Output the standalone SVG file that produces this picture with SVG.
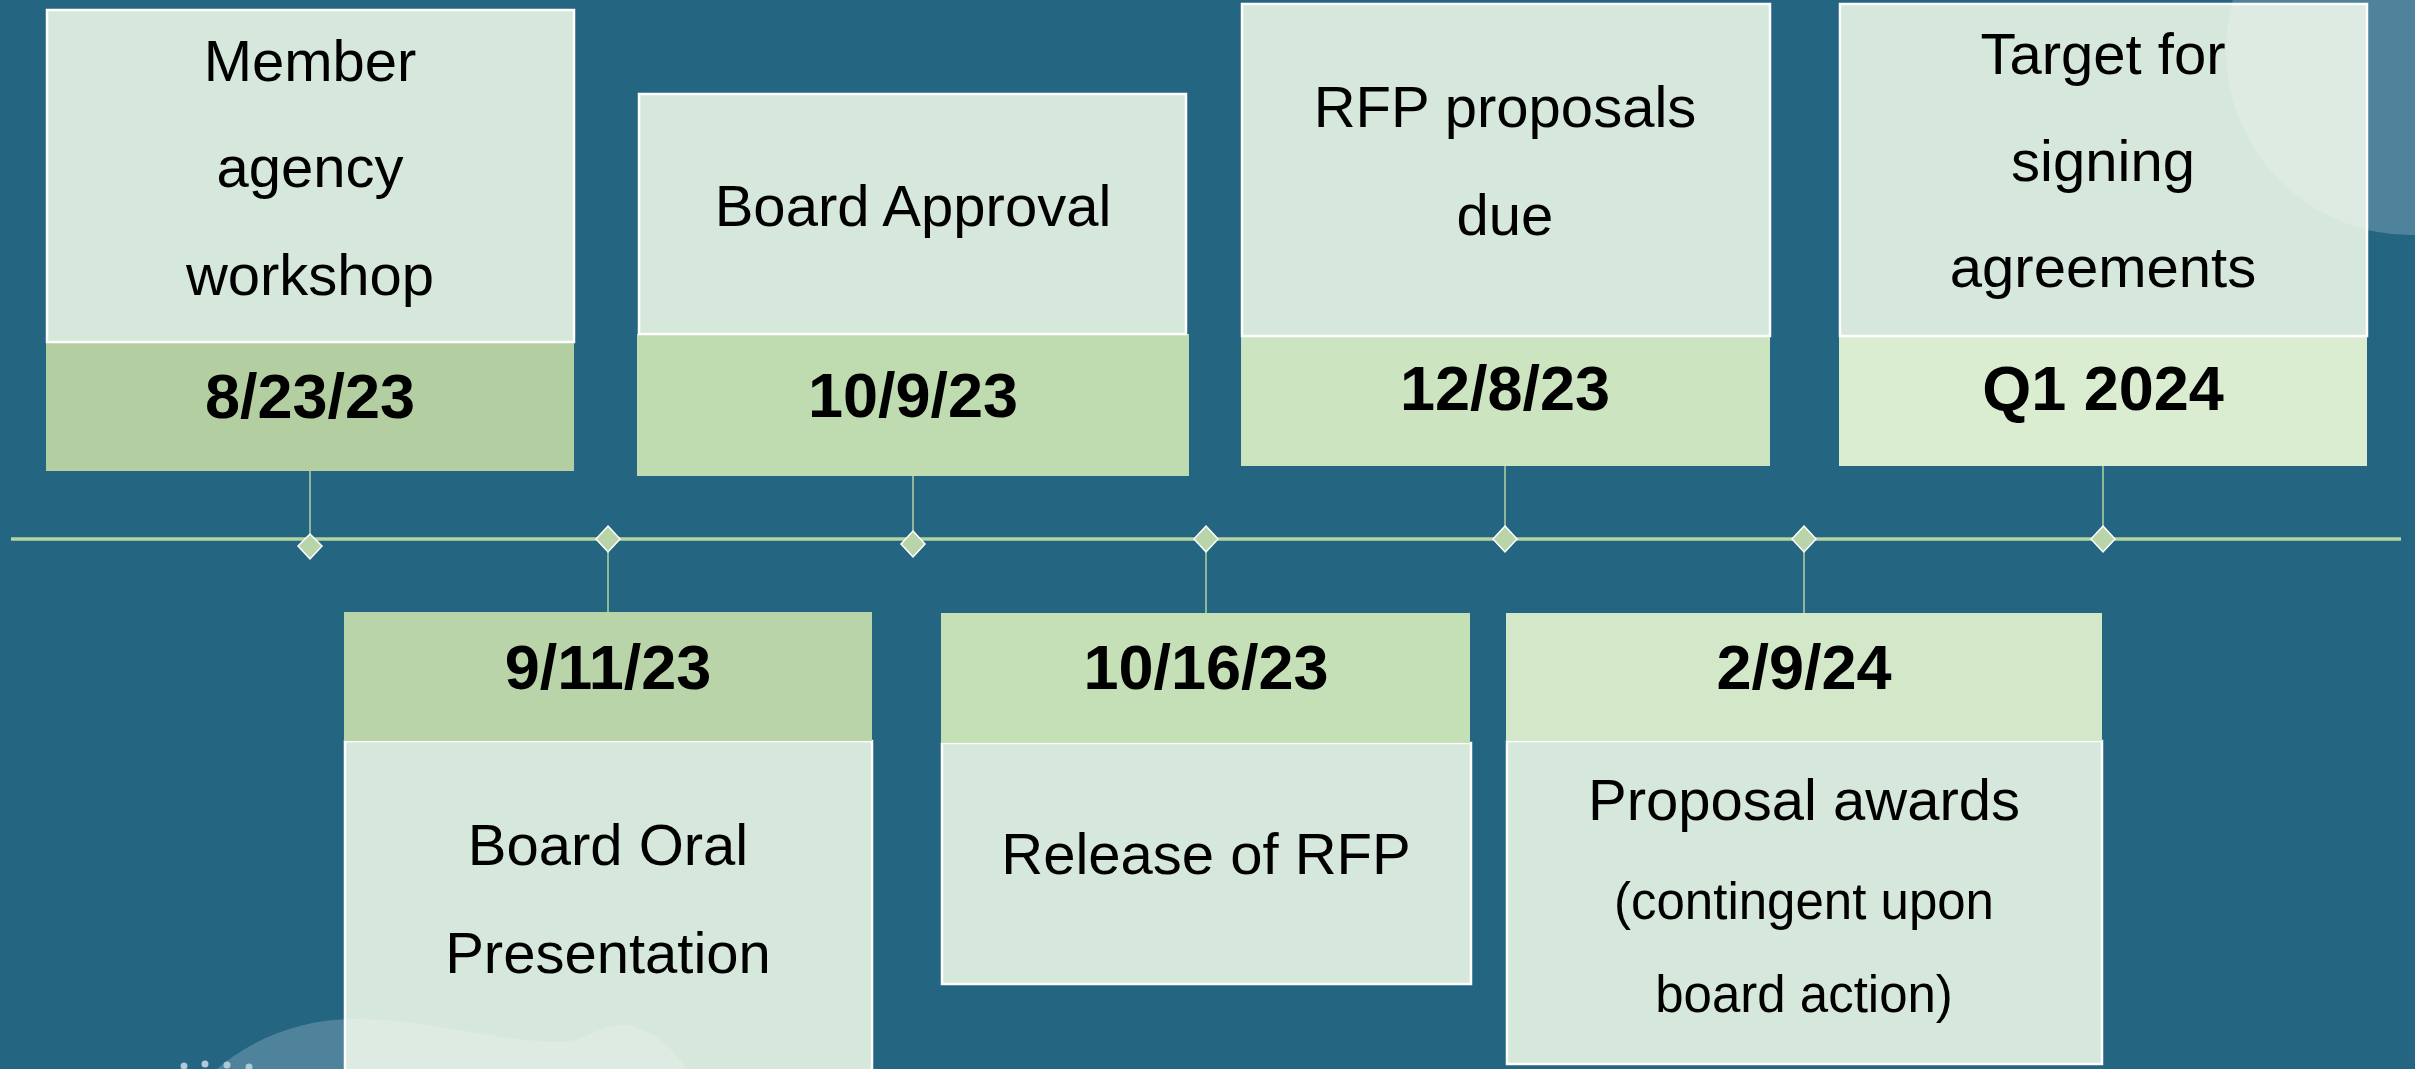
<svg xmlns="http://www.w3.org/2000/svg" width="2415" height="1069" viewBox="0 0 2415 1069">
<style>
.bg{fill:#246582}
.card{fill:#d6e7dc;stroke:#ffffff;stroke-width:2.5}
.t{font-family:"Liberation Sans",Arial,sans-serif;font-size:58px;fill:#000;text-anchor:middle}
.s{font-size:51px}
.d{font-family:"Liberation Sans",Arial,sans-serif;font-size:63px;font-weight:bold;fill:#000;text-anchor:middle}
.stem{stroke:#b4d3a2;stroke-width:1.5;fill:none}
.axis{stroke:#b4d3a2;stroke-width:3.5;fill:none}
.dia{fill:#b8d4a8;stroke:#ffffff;stroke-width:1.5}
.deco{fill:#ffffff;fill-opacity:0.2}
</style>
<rect class="bg" x="0" y="0" width="2415" height="1069"/>

<g id="connectors">
<line class="axis" x1="11" y1="539" x2="2401" y2="539"/>
<line class="stem" x1="310" y1="471" x2="310" y2="540"/>
<line class="stem" x1="608" y1="539" x2="608" y2="613"/>
<line class="stem" x1="913" y1="476" x2="913" y2="540"/>
<line class="stem" x1="1206" y1="539" x2="1206" y2="613"/>
<line class="stem" x1="1505" y1="466" x2="1505" y2="539"/>
<line class="stem" x1="1804" y1="539" x2="1804" y2="613"/>
<line class="stem" x1="2103" y1="466" x2="2103" y2="539"/>
<polygon class="dia" points="310,534 322,546 310,559 298,546"/>
<polygon class="dia" points="608,526 620,539 608,552 596,539"/>
<polygon class="dia" points="913,531 925,544 913,557 901,544"/>
<polygon class="dia" points="1206,526 1218,539 1206,552 1194,539"/>
<polygon class="dia" points="1505,526 1517,539 1505,552 1493,539"/>
<polygon class="dia" points="1804,526 1816,539 1804,552 1792,539"/>
<polygon class="dia" points="2103,526 2115,539 2103,552 2091,539"/>
</g>

<g id="n1">
<rect x="46" y="342" width="528" height="129" fill="#b3cfa1"/>
<rect class="card" x="47" y="10" width="527" height="332"/>
<text class="t" x="310" y="81">Member</text>
<text class="t" x="310" y="187">agency</text>
<text class="t" x="310" y="295">workshop</text>
<text class="d" x="310" y="418">8/23/23</text>
</g>

<g id="n2">
<rect x="637" y="334" width="552" height="142" fill="#bfdbb0"/>
<rect class="card" x="639" y="94" width="547" height="240"/>
<text class="t" x="913" y="226">Board Approval</text>
<text class="d" x="913" y="417">10/9/23</text>
</g>

<g id="n3">
<rect x="1241" y="336" width="529" height="130" fill="#cce5c0"/>
<rect class="card" x="1242" y="4" width="528" height="332"/>
<text class="t" x="1505" y="127">RFP proposals</text>
<text class="t" x="1505" y="235">due</text>
<text class="d" x="1505" y="410">12/8/23</text>
</g>

<g id="n4">
<rect x="1839" y="336" width="528" height="130" fill="#dbedd1"/>
<rect class="card" x="1840" y="4" width="527" height="332"/>
<text class="t" x="2103" y="74">Target for</text>
<text class="t" x="2103" y="181">signing</text>
<text class="t" x="2103" y="287">agreements</text>
<text class="d" x="2103" y="410">Q1 2024</text>
</g>

<g id="n5">
<rect class="card" x="345" y="741" width="527" height="340"/>
<rect x="344" y="612" width="528" height="129" fill="#b8d4a8"/>
<text class="d" x="608" y="689">9/11/23</text>
<text class="t" x="608" y="865">Board Oral</text>
<text class="t" x="608" y="973">Presentation</text>
</g>

<g id="n6">
<rect class="card" x="942" y="743" width="529" height="241"/>
<rect x="941" y="613" width="529" height="130" fill="#c5dfb6"/>
<text class="d" x="1206" y="689">10/16/23</text>
<text class="t" x="1206" y="874">Release of RFP</text>
</g>

<g id="n7">
<rect class="card" x="1507" y="741" width="595" height="323"/>
<rect x="1506" y="613" width="596" height="128" fill="#d3e8c9"/>
<text class="d" x="1804" y="689">2/9/24</text>
<text class="t" x="1804" y="820">Proposal awards</text>
<text class="t s" x="1804" y="919">(contingent upon</text>
<text class="t s" x="1804" y="1012">board action)</text>
</g>

<g id="decor">
<circle class="deco" cx="2411" cy="50" r="185"/>
<path class="deco" d="M217,1069 C250,1040 300,1019 353,1019 C430,1019 500,1042 560,1042 C585,1042 600,1025 621,1025 C650,1025 675,1050 686,1069 Z"/>
<g fill="#b0c9d6">
<circle cx="184" cy="1066" r="3.5"/>
<circle cx="205" cy="1064" r="3.5"/>
<circle cx="227" cy="1065" r="3.5"/>
<circle cx="249" cy="1067" r="3.5"/>
</g>
</g>
</svg>
